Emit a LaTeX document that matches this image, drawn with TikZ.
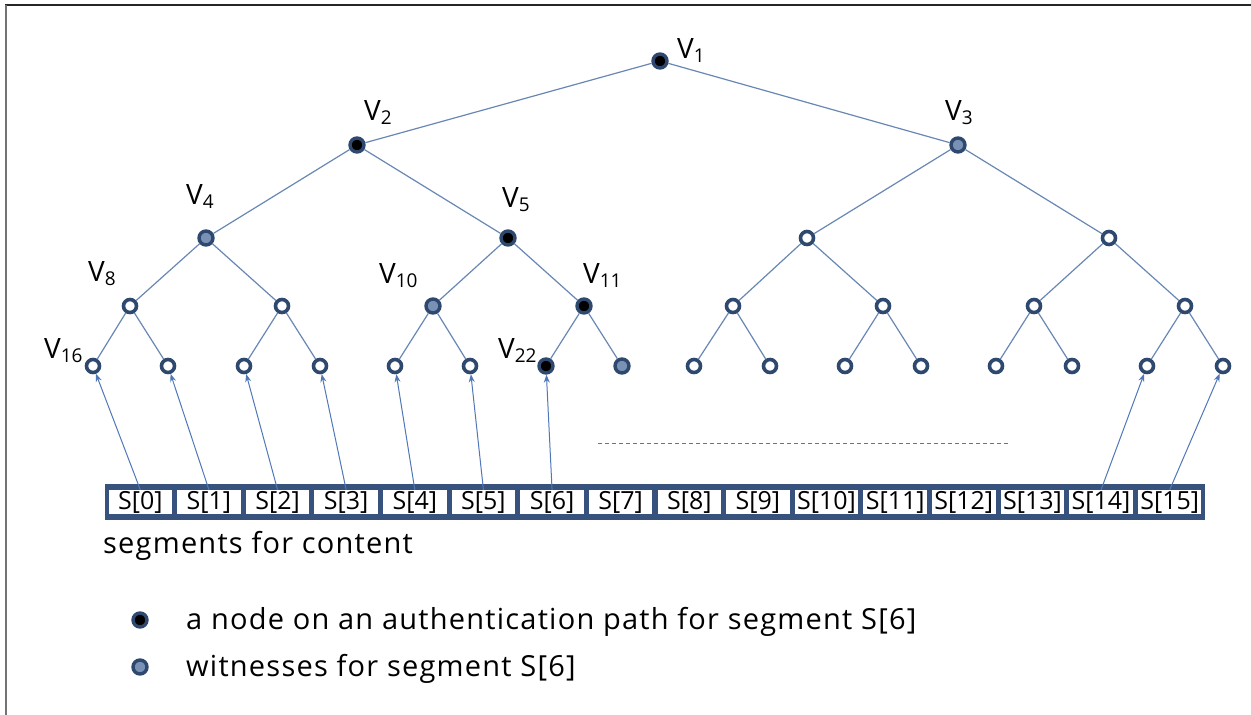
\documentclass[tikz,border=0pt]{standalone}
\usepackage{fontspec}
\setmainfont{Open Sans}
\newfontfamily\lfont[LetterSpace=4.2]{Open Sans}
\usetikzlibrary{arrows.meta}
\definecolor{ringc}{RGB}{46,72,110}
\definecolor{edgec}{RGB}{105,135,180}
\definecolor{arrc}{RGB}{80,120,185}
\definecolor{witc}{RGB}{120,145,180}
\definecolor{boxc}{RGB}{55,82,125}
\newcommand\Vlab[1]{V\raisebox{-0.3ex}{\fontsize{19}{19}\selectfont #1}}
\tikzset{
  tn/.style={circle,inner sep=0pt,minimum size=14pt},
  blk/.style={tn,fill=black,draw=ringc,line width=3.4pt},
  wit/.style={tn,fill=witc,draw=ringc,line width=3.4pt},
  emp/.style={tn,fill=white,draw=ringc,line width=3.6pt,minimum size=13pt},
  edge/.style={draw=edgec,line width=1.2pt},
  arr/.style={draw=arrc,line width=1pt,-{Stealth[length=8pt,width=6pt]}},
  lab/.style={anchor=base west,inner sep=0pt,font=\fontsize{28}{28}\selectfont},
  cell/.style={fill=white,inner sep=0pt,minimum width=63.6pt,minimum height=24pt,font=\fontsize{25}{25}\selectfont},
  ltxt/.style={anchor=base west,inner sep=0pt,font=\lfont\fontsize{29}{29}\selectfont},
}
\begin{document}
\begin{tikzpicture}[x=1pt,y=-1pt]
\useasboundingbox (0,0) rectangle (1251,715);
\fill[white] (0,0) rectangle (1251,715);
\draw[draw=black!85,line width=2pt] (5,5) -- (1251,5);
\draw[draw=black!55,line width=2pt] (6,5) -- (6,715);
% level 1-2
\node[blk] (v1) at (660,61) {};
\node[blk] (v2) at (357,145) {};
\node[wit] (v3) at (958,145) {};
% level 3
\node[wit] (v4) at (206,238) {};
\node[blk] (v5) at (508,238) {};
\node[emp] (v6) at (807,238) {};
\node[emp] (v7) at (1109,238) {};
% level 4
\node[emp] (v8) at (130,306) {};
\node[emp] (v9) at (282,306) {};
\node[wit] (v10) at (433,306) {};
\node[blk] (v11) at (584,306) {};
\node[emp] (v12) at (733,306) {};
\node[emp] (v13) at (883,306) {};
\node[emp] (v14) at (1034,306) {};
\node[emp] (v15) at (1185,306) {};
% level 5
\node[emp] (v16) at (93,366) {};
\node[emp] (v17) at (168,366) {};
\node[emp] (v18) at (244,366) {};
\node[emp] (v19) at (320,366) {};
\node[emp] (v20) at (395,366) {};
\node[emp] (v21) at (470,366) {};
\node[blk] (v22) at (546,366) {};
\node[wit] (v23) at (622,366) {};
\node[emp] (v24) at (694,366) {};
\node[emp] (v25) at (770,366) {};
\node[emp] (v26) at (845,366) {};
\node[emp] (v27) at (921,366) {};
\node[emp] (v28) at (996,366) {};
\node[emp] (v29) at (1072,366) {};
\node[emp] (v30) at (1147,366) {};
\node[emp] (v31) at (1223,366) {};
% edges
\foreach \i in {1,...,15}{
  \pgfmathtruncatemacro\l{2*\i}
  \pgfmathtruncatemacro\r{2*\i+1}
  \draw[edge] (v\i) -- (v\l);
  \draw[edge] (v\i) -- (v\r);
}
% labels
\node[lab] (l1) at (677,58) {\Vlab{1}};
\node[lab] (l2) at (364,120) {\Vlab{2}};
\node[lab] (l3) at (945,120) {\Vlab{3}};
\node[lab] (l4) at (186,204) {\Vlab{4}};
\node[lab] (l5) at (502,207) {\Vlab{5}};
\node[lab] (l8) at (88,281) {\Vlab{8}};
\node[lab] (l10) at (379,283) {\Vlab{10}};
\node[lab] (l11) at (583,283) {\Vlab{11}};
\node[lab] (l16) at (44,358) {\Vlab{16}};
\node[lab] (l22) at (498,358) {\Vlab{22}};
% dashed
\coordinate (d1) at (598,443);
\coordinate (d2) at (1010,443);
\draw[draw=arrc,line width=0.8pt,dash pattern=on 4pt off 3pt] (d1) -- (d2);
% segments
\fill[boxc] (105,484) rectangle (1205,520);
\foreach \i in {0,...,15}{
  \node[cell] (s\i) at ({106+68.625*(\i+0.5)},502) {S[\i]};
}
% arrows
\draw[arr] (s0.north) -- (v16);
\draw[arr] (s1.north) -- (v17);
\draw[arr] (s2.north) -- (v18);
\draw[arr] (s3.north) -- (v19);
\draw[arr] (s4.north) -- (v20);
\draw[arr] (s5.north) -- (v21);
\draw[arr] (s6.north) -- (v22);
\draw[arr] (s14.north) -- (v30);
\draw[arr] (s15.north) -- (v31);
\node[ltxt] (seg) at (103,553) {segments for content};
% legend
\node[blk] (k1) at (140,620) {};
\node[ltxt] (t1) at (186,629) {a node on an authentication path for segment S[6]};
\node[wit] (k2) at (140,667) {};
\node[ltxt] (t2) at (186,676) {witnesses for segment S[6]};
\end{tikzpicture}
\end{document}
